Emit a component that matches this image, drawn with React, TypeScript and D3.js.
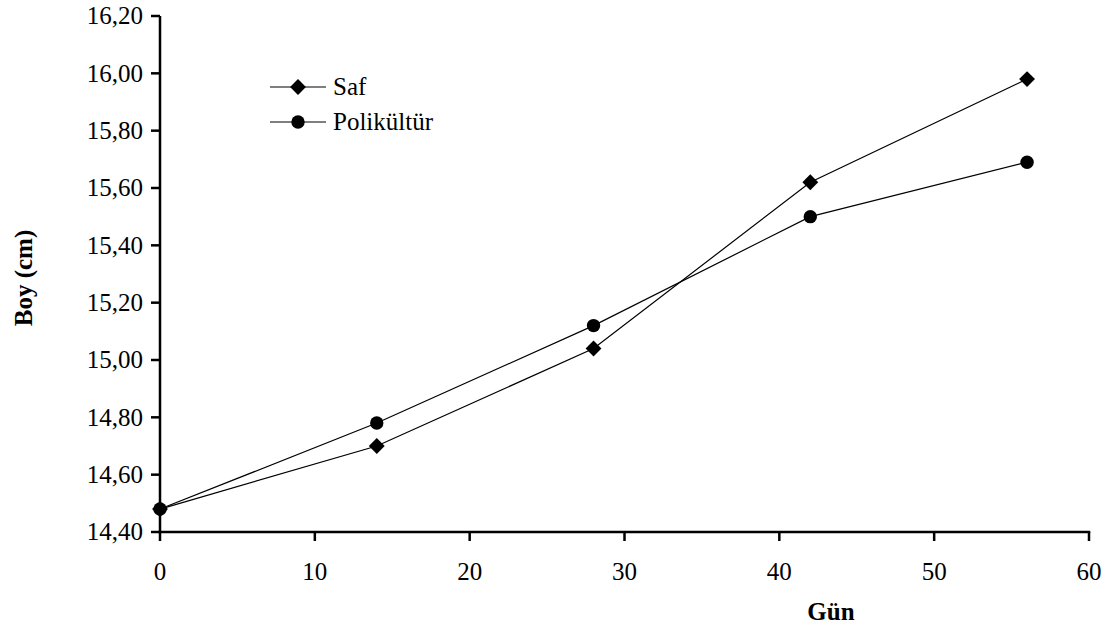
import * as d3 from 'd3'
import { useMemo } from 'react'

const WIDTH = 1110 as const
const HEIGHT = 628 as const

const DAYS = [0, 14, 28, 42, 56]
const SAF = [14.48, 14.7, 15.04, 15.62, 15.98]
const POLIKULTUR = [14.48, 14.78, 15.12, 15.5, 15.69]
const X_TICKS = [0, 10, 20, 30, 40, 50, 60]
const Y_TICKS = [14.4, 14.6, 14.8, 15.0, 15.2, 15.4, 15.6, 15.8, 16.0, 16.2]

const FONT = '"Liberation Serif", "Times New Roman", serif'

export default function App() {
  const chart = useMemo(() => {
    const x = d3.scaleLinear().domain([0, 60]).range([160, 1089])
    const y = d3.scaleLinear().domain([14.4, 16.2]).range([532, 16])
    const line = d3
      .line<number>()
      .x((_, i) => x(DAYS[i]))
      .y((d) => y(d))
    const diamond = d3.symbol().type(d3.symbolDiamond2).size(160)()
    const fmt = (v: number) => v.toFixed(2).replace('.', ',')
    return { x, y, line, diamond, fmt }
  }, [])

  const { x, y, line, diamond, fmt } = chart

  return (
    <svg
      width={WIDTH}
      height={HEIGHT}
      style={{ position: 'absolute', left: 0, top: 0, background: '#fff' }}
      fontFamily={FONT}
    >
      {/* series lines */}
      <path d={line(SAF) ?? undefined} fill="none" stroke="#000" strokeWidth={1.2} />
      <path d={line(POLIKULTUR) ?? undefined} fill="none" stroke="#000" strokeWidth={1.2} />

      {/* axes */}
      <g stroke="#000" strokeWidth={2.5}>
        <line x1={x(0)} x2={x(0)} y1={y(16.2)} y2={y(14.4) + 1.25} />
        <line x1={x(0) - 1.25} x2={x(60) + 1.25} y1={y(14.4)} y2={y(14.4)} />
        {Y_TICKS.map((t) => (
          <line key={t} x1={x(0) - 9} x2={x(0)} y1={y(t)} y2={y(t)} />
        ))}
        {X_TICKS.map((t) => (
          <line key={t} x1={x(t)} x2={x(t)} y1={y(14.4)} y2={y(14.4) + 9} />
        ))}
      </g>
      <g fontSize={25} fill="#000">
        {Y_TICKS.map((t) => (
          <text key={t} x={x(0) - 17} y={y(t)} dy="0.33em" textAnchor="end">
            {fmt(t)}
          </text>
        ))}
        {X_TICKS.map((t) => (
          <text key={t} x={x(t)} y={580} textAnchor="middle">
            {t}
          </text>
        ))}
      </g>

      {/* markers */}
      {POLIKULTUR.map((v, i) => (
        <circle key={`p${i}`} cx={x(DAYS[i])} cy={y(v)} r={6.7} fill="#000" />
      ))}
      {SAF.map((v, i) => (
        <path
          key={`s${i}`}
          d={diamond ?? undefined}
          transform={`translate(${x(DAYS[i])},${y(v)})`}
          fill="#000"
        />
      ))}

      {/* axis titles */}
      <text x={831} y={620} fontSize={25} fontWeight="bold" textAnchor="middle">
        Gün
      </text>
      <text
        transform="translate(32,278) rotate(-90)"
        fontSize={25}
        fontWeight="bold"
        textAnchor="middle"
      >
        Boy (cm)
      </text>

      {/* legend */}
      <g>
        <line x1={270} x2={326} y1={87} y2={87} stroke="#000" strokeWidth={1.2} />
        <path d={diamond ?? undefined} transform="translate(298,87)" fill="#000" />
        <text x={333} y={87} dy="0.33em" fontSize={25}>
          Saf
        </text>
        <line x1={270} x2={326} y1={122} y2={122} stroke="#000" strokeWidth={1.2} />
        <circle cx={298} cy={122} r={6.7} fill="#000" />
        <text x={333} y={122} dy="0.33em" fontSize={25}>
          Polikültür
        </text>
      </g>
    </svg>
  )
}
